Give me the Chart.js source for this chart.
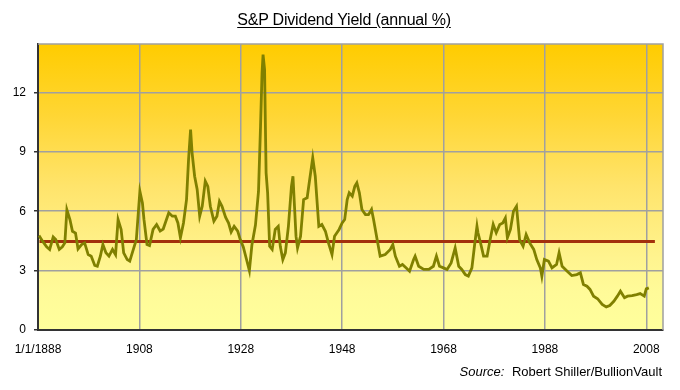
<!DOCTYPE html>
<html>
<head>
<meta charset="utf-8">
<script src="https://cdn.jsdelivr.net/npm/chart.js@4.4.1/dist/chart.umd.min.js"></script>
<style>
  html, body { margin: 0; padding: 0; background: #ffffff; }
  #wrap { position: relative; width: 680px; height: 390px; }
  #title { position: absolute; left: 4px; width: 680px; top: 11px; text-align: center;
           font-family: "Liberation Sans", Arial, sans-serif; font-size: 16px; color: #000;
           text-decoration: underline; text-underline-offset: 2px; letter-spacing: -0.2px; }
  #source { position: absolute; right: 18px; top: 364px;
            font-family: "Liberation Sans", Arial, sans-serif; font-size: 13px; color: #000; }
  #source i { margin-right: 4px; }
</style>
</head>
<body>
<div id="wrap">
  <canvas id="c" width="680" height="390"></canvas>
  <div id="title">S&amp;P Dividend Yield (annual %)</div>
  <div id="source"><i>Source:</i> Robert Shiller/BullionVault</div>
</div>
<script>
// ---- data ----
const years = [
  1888.2,1888.9,1889.7,1890.3,1891.0,1891.5,1892.2,1892.8,1893.3,1893.7,
  1894.3,1894.8,1895.4,1895.9,1896.6,1897.2,1897.9,1898.5,1899.2,1899.7,
  1900.3,1900.8,1901.4,1902.0,1902.7,1903.3,1903.8,1904.4,1904.9,1905.6,
  1906.1,1906.9,1907.4,1908.1,1908.6,1908.9,1909.5,1910.0,1910.7,1911.4,
  1912.1,1912.7,1913.8,1914.5,1915.1,1915.6,1916.1,1916.7,1917.3,1917.7,
  1918.1,1918.4,1918.9,1919.4,1919.9,1920.4,1921.0,1921.5,1922.0,1922.7,
  1923.3,1923.8,1924.3,1925.0,1925.6,1926.1,1926.7,1927.4,1927.9,1928.5,
  1929.1,1929.7,1930.2,1930.9,1931.5,1931.9,1932.2,1932.4,1932.7,1932.9,
  1933.0,1933.3,1933.7,1934.2,1934.8,1935.4,1935.8,1936.3,1936.8,1937.4,
  1938.0,1938.3,1938.6,1938.9,1939.2,1939.8,1940.4,1941.1,1941.5,1942.2,
  1942.7,1943.4,1944.0,1944.7,1945.3,1946.0,1946.5,1947.4,1948.0,1948.5,
  1949.0,1949.4,1950.0,1950.5,1950.9,1951.4,1951.9,1952.6,1953.2,1953.8,
  1954.2,1954.9,1955.5,1956.5,1957.5,1958.0,1958.5,1959.3,1959.9,1960.6,
  1961.3,1962.1,1962.4,1963.1,1964.1,1965.1,1966.0,1966.6,1967.2,1968.0,
  1968.7,1969.5,1970.3,1971.0,1971.6,1972.3,1972.9,1973.6,1974.1,1974.6,
  1974.8,1975.3,1975.9,1976.6,1977.2,1977.8,1978.4,1979.1,1979.7,1980.2,
  1980.6,1981.2,1981.8,1982.4,1983.0,1983.7,1984.3,1985.0,1985.8,1986.4,
  1987.1,1987.4,1987.9,1988.7,1989.4,1990.3,1990.8,1991.4,1992.4,1993.3,
  1994.3,1995.0,1995.6,1996.3,1996.9,1997.6,1998.4,1999.3,2000.1,2000.8,
  2001.6,2002.3,2002.9,2003.7,2004.3,2005.2,2006.1,2006.8,2007.6,2008.0,
  2008.5
];
const yields = [
  4.77,4.49,4.20,4.07,4.70,4.57,4.07,4.20,4.40,6.08,
  5.58,4.99,4.90,4.10,4.32,4.40,3.81,3.73,3.26,3.22,
  3.73,4.32,3.90,3.73,4.07,3.81,5.58,5.08,3.90,3.56,
  3.48,4.15,4.57,7.01,6.42,5.60,4.32,4.27,5.08,5.33,
  5.00,5.10,5.92,5.75,5.75,5.41,4.66,5.41,6.59,8.61,
  10.13,8.95,7.77,7.10,5.75,6.25,7.52,7.26,6.25,5.50,
  5.75,6.50,6.25,5.70,5.40,4.95,5.24,5.00,4.57,4.20,
  3.60,3.00,4.30,5.30,7.00,10.29,12.99,13.91,13.16,9.62,
  7.94,6.93,4.23,4.07,5.08,5.24,4.23,3.56,3.90,5.24,
  7.26,7.77,6.25,4.74,4.15,4.74,6.59,6.68,7.43,8.70,
  7.77,5.24,5.33,4.99,4.40,3.81,4.74,5.08,5.41,5.58,
  6.59,6.93,6.76,7.26,7.43,6.93,6.09,5.83,5.83,6.09,
  5.58,4.57,3.73,3.81,4.07,4.32,3.73,3.22,3.31,3.14,
  2.97,3.56,3.73,3.22,3.06,3.06,3.22,3.73,3.22,3.14,
  3.06,3.39,4.15,3.22,3.06,2.80,2.72,3.14,4.23,5.24,
  4.91,4.40,3.73,3.73,4.57,5.33,4.91,5.33,5.41,5.66,
  4.66,5.08,6.00,6.25,4.57,4.23,4.82,4.40,4.07,3.56,
  3.14,2.72,3.56,3.48,3.14,3.31,3.90,3.22,2.97,2.75,
  2.80,2.89,2.30,2.21,2.05,1.71,1.58,1.29,1.17,1.24,
  1.45,1.71,1.96,1.63,1.71,1.74,1.79,1.84,1.71,2.08,
  2.13
];
const avgYears = [1888.3, 2009.7];
const avgYield = 4.47;
const xTickYears = [1888, 1908, 1928, 1948, 1968, 1988, 2008];
const yTickValues = [0, 3, 6, 9, 12];

// ---- chart ----
const bgPlugin = {
  id: 'bg',
  beforeDraw(chart) {
    const { ctx, chartArea: a } = chart;
    const g = ctx.createLinearGradient(0, a.top, 0, a.bottom);
    g.addColorStop(0.0, '#FFCC00');
    g.addColorStop(0.25, '#FFD634');
    g.addColorStop(0.5, '#FFE46C');
    g.addColorStop(0.75, '#FFF48F');
    g.addColorStop(0.87, '#FFFB99');
    g.addColorStop(1.0, '#FFFF9C');
    ctx.save();
    ctx.fillStyle = g;
    ctx.fillRect(a.left, a.top, a.right - a.left, a.bottom - a.top);
    ctx.restore();
  },
  afterDraw(chart) {
    const { ctx, chartArea: a } = chart;
    ctx.save();
    ctx.strokeStyle = '#A0A0A0';
    ctx.lineWidth = 1.5;
    ctx.beginPath();
    ctx.moveTo(a.left, a.top);
    ctx.lineTo(a.right, a.top);
    ctx.lineTo(a.right, a.bottom);
    ctx.stroke();
    ctx.restore();
  }
};

const lineData = years.map((x, i) => ({ x: x, y: yields[i] }));
const avgData = avgYears.map(x => ({ x: x, y: avgYield }));

new Chart(document.getElementById('c'), {
  type: 'line',
  data: {
    datasets: [
      { data: avgData, borderColor: '#A3300C', borderWidth: 3, pointRadius: 0, tension: 0, order: 2 },
      { data: lineData, borderColor: '#808000', borderWidth: 2.8, pointRadius: 0, tension: 0, order: 1 }
    ]
  },
  options: {
    responsive: false,
    animation: false,
    devicePixelRatio: 1,
    layout: { padding: { left: 0, right: 17, top: 44, bottom: 29 } },
    plugins: { legend: { display: false }, tooltip: { enabled: false }, title: { display: false } },
    scales: {
      x: {
        type: 'linear',
        min: 1888,
        max: 2011.3,
        afterBuildTicks: s => { s.ticks = xTickYears.map(v => ({ value: v })); },
        afterFit: s => { s.height = 31; },
        grid: { color: '#A0A0A0', lineWidth: 1.5, drawTicks: false },
        border: { color: '#333333', width: 2 },
        ticks: {
          padding: 12, maxRotation: 0, autoSkip: false,
          color: '#000', font: { family: '"Liberation Sans", Arial, sans-serif', size: 12 },
          callback: v => (v === 1888 ? '1/1/1888' : String(v))
        }
      },
      y: {
        min: 0,
        max: 14.45,
        afterBuildTicks: s => { s.ticks = yTickValues.map(v => ({ value: v })); },
        afterFit: s => { s.width = 38; },
        grid: { color: '#A0A0A0', lineWidth: 1.5, tickLength: 4,
                tickColor: '#333333' },
        border: { color: '#333333', width: 2 },
        ticks: {
          padding: 8,
          color: '#000', font: { family: '"Liberation Sans", Arial, sans-serif', size: 12 }
        }
      }
    }
  },
  plugins: [bgPlugin]
});
</script>
</body>
</html>
